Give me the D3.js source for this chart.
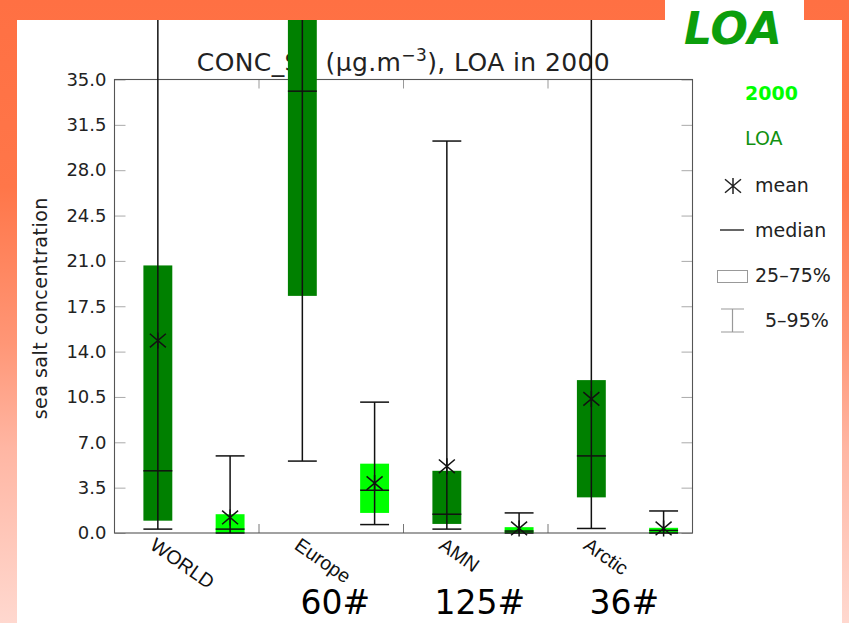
<!DOCTYPE html>
<html>
<head>
<meta charset="utf-8">
<script src="https://cdn.jsdelivr.net/npm/d3@7"></script>
<style>
  html, body { margin: 0; padding: 0; background: #fff; }
  svg { display: block; }
</style>
</head>
<body>
<svg id="chart" width="849" height="623"></svg>
<script>
// ---- data -------------------------------------------------------------
const categories = ["WORLD", "Europe", "AMN", "Arctic"];
const stationCounts = ["", "60#", "125#", "36#"];
const seriesNames = ["LOA", "2000"];
const seriesColors = ["#008000", "#00ff00"];

// LOA model: 5th pct, 25th pct, median, 75th pct, 95th pct, mean
const loaP5     = [0.3, 5.55, 0.3, 0.35];
const loaQ1     = [0.95, 18.3, 0.7, 2.75];
const loaMedian = [4.8, 34.1, 1.45, 5.95];
const loaQ3     = [20.65, 52.0, 4.8, 11.8];
const loaP95    = [85.0, 120.0, 30.25, 70.0];
const loaMean   = [14.85, 45.0, 5.15, 10.35];

// year 2000 values
const y2000P5     = [0.0, 0.65, 0.0, 0.0];
const y2000Q1     = [0.0, 1.55, 0.0, 0.0];
const y2000Median = [0.3, 3.3, 0.15, 0.2];
const y2000Q3     = [1.45, 5.35, 0.45, 0.4];
const y2000P95    = [5.95, 10.1, 1.55, 1.7];
const y2000Mean   = [1.2, 3.85, 0.35, 0.35];

const yTickValues = [0.0, 3.5, 7.0, 10.5, 14.0, 17.5, 21.0, 24.5, 28.0, 31.5, 35.0];

// ---- layout -----------------------------------------------------------
const W = 849, H = 623;
const plot = { left: 114.5, right: 692.5, top: 79.5, bottom: 533 };
const FONT = "'DejaVu Sans', Verdana, sans-serif";

const svg = d3.select("#chart");

// page frame: orange gradient with a white panel
const defs = svg.append("defs");
const grad = defs.append("linearGradient")
  .attr("id", "frameGrad").attr("gradientUnits", "userSpaceOnUse")
  .attr("x1", 0).attr("y1", 0).attr("x2", 0).attr("y2", H);
[[0, "#ff7043"], [0.3, "#ff7649"], [0.55, "#ff9676"], [0.72, "#ffb6a3"], [1, "#ffd8cf"]]
  .forEach(([o, c]) => grad.append("stop").attr("offset", o).attr("stop-color", c));

svg.append("rect").attr("width", W).attr("height", H).attr("fill", "url(#frameGrad)");
svg.append("rect").attr("x", 17).attr("y", 20).attr("width", 842 - 17).attr("height", H - 20).attr("fill", "#fff");
svg.append("rect").attr("x", 665).attr("y", 0).attr("width", 804 - 665).attr("height", 21).attr("fill", "#fff");

// ---- scales -----------------------------------------------------------
const y = d3.scaleLinear().domain([0, 35]).range([plot.bottom, plot.top]);
const x = d3.scaleBand().domain(categories).range([plot.left, plot.right]).padding(0);
const slot = d3.scaleLinear().domain([0, 1]).range([0, x.bandwidth()]);
const seriesCenter = [0.3, 0.8];   // position of each series inside its group
const boxW = slot(0.2);

// ---- title ------------------------------------------------------------
const title = svg.append("text")
  .attr("x", (plot.left + plot.right) / 2).attr("y", 71)
  .attr("text-anchor", "middle")
  .style("font-family", FONT).style("font-size", "25px").style("letter-spacing", "0.4px")
  .attr("fill", "#222");
title.append("tspan").text("CONC_SS (\u03bcg.m");
title.append("tspan").attr("dy", -10).style("font-size", "17px").text("\u22123");
title.append("tspan").attr("dy", 10).text("), LOA in 2000");

// ---- axes frame -------------------------------------------------------
const axisColor = "#555";
const tickColor = "#aaa";

const yAxisL = d3.axisLeft(y).tickValues(yTickValues).tickFormat(d3.format(".1f"))
  .tickSizeInner(-11).tickSizeOuter(0).tickPadding(8);
const gL = svg.append("g").attr("transform", `translate(${plot.left},0)`).call(yAxisL);
gL.select(".domain").remove();
gL.selectAll(".tick line").attr("stroke", tickColor);
gL.selectAll(".tick text").style("font-family", FONT).style("font-size", "18px").attr("fill", "#222");

const yAxisR = d3.axisRight(y).tickValues(yTickValues).tickFormat("")
  .tickSizeInner(-11).tickSizeOuter(0);
const gR = svg.append("g").attr("transform", `translate(${plot.right},0)`).call(yAxisR);
gR.select(".domain").remove();
gR.selectAll(".tick line").attr("stroke", tickColor);

// group boundary ticks on bottom and top edges
const bounds = categories.slice(1).map(c => x(c));
svg.append("g").selectAll("line").data(bounds).join("line")
  .attr("x1", d => d).attr("x2", d => d)
  .attr("y1", plot.bottom).attr("y2", plot.bottom - 9)
  .attr("stroke", "#777");
svg.append("g").selectAll("line").data(bounds).join("line")
  .attr("x1", d => d).attr("x2", d => d)
  .attr("y1", plot.top).attr("y2", plot.top + 9)
  .attr("stroke", "#999");

svg.append("rect")
  .attr("x", plot.left).attr("y", plot.top)
  .attr("width", plot.right - plot.left).attr("height", plot.bottom - plot.top)
  .attr("fill", "none").attr("stroke", axisColor).attr("stroke-width", 1.1);

// y-axis title
svg.append("text")
  .attr("transform", `translate(47,${(plot.top + plot.bottom) / 2 + 2}) rotate(-90)`)
  .attr("text-anchor", "middle")
  .style("font-family", FONT).style("font-size", "19px").style("letter-spacing", "0.5px")
  .attr("fill", "#222")
  .text("sea salt concentration");

// category labels, slanted
svg.append("g").selectAll("text").data(categories).join("text")
  .attr("transform", d => `translate(${x(d) + slot(seriesCenter[0]) - 9},548) rotate(35)`)
  .style("font-family", "'Liberation Sans', Arial, sans-serif").style("font-size", "19.5px")
  .attr("fill", "#111")
  .text(d => d);

// station counts
svg.append("g").selectAll("text").data(categories.map((c, i) => ({ c, n: stationCounts[i] })))
  .join("text")
  .attr("x", d => x(d.c) + x.bandwidth() / 2 + 4).attr("y", 614)
  .attr("text-anchor", "middle")
  .style("font-family", FONT).style("font-size", "33px").attr("fill", "#000")
  .text(d => d.n);

// ---- box plots --------------------------------------------------------
const rows = [];
categories.forEach((c, i) => {
  rows.push({ cat: c, s: 0, p5: loaP5[i], q1: loaQ1[i], med: loaMedian[i], q3: loaQ3[i], p95: loaP95[i], mean: loaMean[i] });
  rows.push({ cat: c, s: 1, p5: y2000P5[i], q1: y2000Q1[i], med: y2000Median[i], q3: y2000Q3[i], p95: y2000P95[i], mean: y2000Mean[i] });
});
const cx = d => x(d.cat) + slot(seriesCenter[d.s]);
const lineColor = "#111";

const boxes = svg.append("g");
boxes.selectAll("rect").data(rows).join("rect")
  .attr("x", d => cx(d) - boxW / 2).attr("width", boxW)
  .attr("y", d => y(d.q3)).attr("height", d => y(d.q1) - y(d.q3))
  .attr("fill", d => seriesColors[d.s]);

// whisker stems
boxes.selectAll("line.stem").data(rows).join("line").attr("class", "stem")
  .attr("x1", cx).attr("x2", cx)
  .attr("y1", d => y(d.p5)).attr("y2", d => y(d.p95))
  .attr("stroke", lineColor).attr("stroke-width", 1.5);
// whisker caps
boxes.selectAll("line.capLo").data(rows).join("line").attr("class", "capLo")
  .attr("x1", d => cx(d) - boxW / 2).attr("x2", d => cx(d) + boxW / 2)
  .attr("y1", d => y(d.p5)).attr("y2", d => y(d.p5))
  .attr("stroke", lineColor).attr("stroke-width", 1.5);
boxes.selectAll("line.capHi").data(rows).join("line").attr("class", "capHi")
  .attr("x1", d => cx(d) - boxW / 2).attr("x2", d => cx(d) + boxW / 2)
  .attr("y1", d => y(d.p95)).attr("y2", d => y(d.p95))
  .attr("stroke", lineColor).attr("stroke-width", 1.5);
// medians
boxes.selectAll("line.med").data(rows).join("line").attr("class", "med")
  .attr("x1", d => cx(d) - boxW / 2).attr("x2", d => cx(d) + boxW / 2)
  .attr("y1", d => y(d.med)).attr("y2", d => y(d.med))
  .attr("stroke", lineColor).attr("stroke-width", 1.5);

// asterisk marker
function star(px, py, r) {
  const a = r, b = r * 0.85;
  return `M${px - a},${py - b}L${px + a},${py + b}M${px - a},${py + b}L${px + a},${py - b}M${px},${py - r}L${px},${py + r}`;
}
boxes.selectAll("path.mean").data(rows).join("path").attr("class", "mean")
  .attr("d", d => star(cx(d), y(d.mean), 8))
  .attr("stroke", lineColor).attr("stroke-width", 1.5).attr("fill", "none");

// top band of the frame drawn over anything extending above the panel
svg.append("rect").attr("x", 0).attr("y", 0).attr("width", 665).attr("height", 20).attr("fill", "url(#frameGrad)");
svg.append("rect").attr("x", 804).attr("y", 0).attr("width", W - 804).attr("height", 20).attr("fill", "url(#frameGrad)");

// ---- legend -----------------------------------------------------------
const lg = svg.append("g").style("font-family", FONT).style("font-size", "19px");
lg.append("text").attr("x", 745).attr("y", 100).attr("fill", seriesColors[1]).style("font-weight", "bold").text(seriesNames[1]);
lg.append("text").attr("x", 745).attr("y", 145).attr("fill", "#119111").text(seriesNames[0]);
lg.append("path").attr("d", star(733, 186, 8)).attr("stroke", "#222").attr("stroke-width", 1.5).attr("fill", "none");
lg.append("text").attr("x", 755).attr("y", 192).attr("fill", "#222").text("mean");
lg.append("line").attr("x1", 720).attr("x2", 744).attr("y1", 230).attr("y2", 230).attr("stroke", "#333").attr("stroke-width", 1.5);
lg.append("text").attr("x", 755).attr("y", 237).attr("fill", "#222").text("median");
lg.append("rect").attr("x", 717.5).attr("y", 270.5).attr("width", 30).attr("height", 12)
  .attr("fill", "none").attr("stroke", "#999");
lg.append("text").attr("x", 755).attr("y", 282).attr("fill", "#222").text("25\u201375%");
lg.append("path").attr("d", "M721,309H744M721,332H744M732.5,309V332").attr("stroke", "#999").attr("stroke-width", 1.2).attr("fill", "none");
lg.append("text").attr("x", 765).attr("y", 327).attr("fill", "#222").text("5\u201395%");

// big label in the top-right notch
svg.append("text").attr("x", 684).attr("y", 44)
  .style("font-family", FONT).style("font-size", "44px").style("font-weight", "bold").style("font-style", "italic")
  .attr("fill", "#0c9e0c").text("LOA");
</script>
</body>
</html>
